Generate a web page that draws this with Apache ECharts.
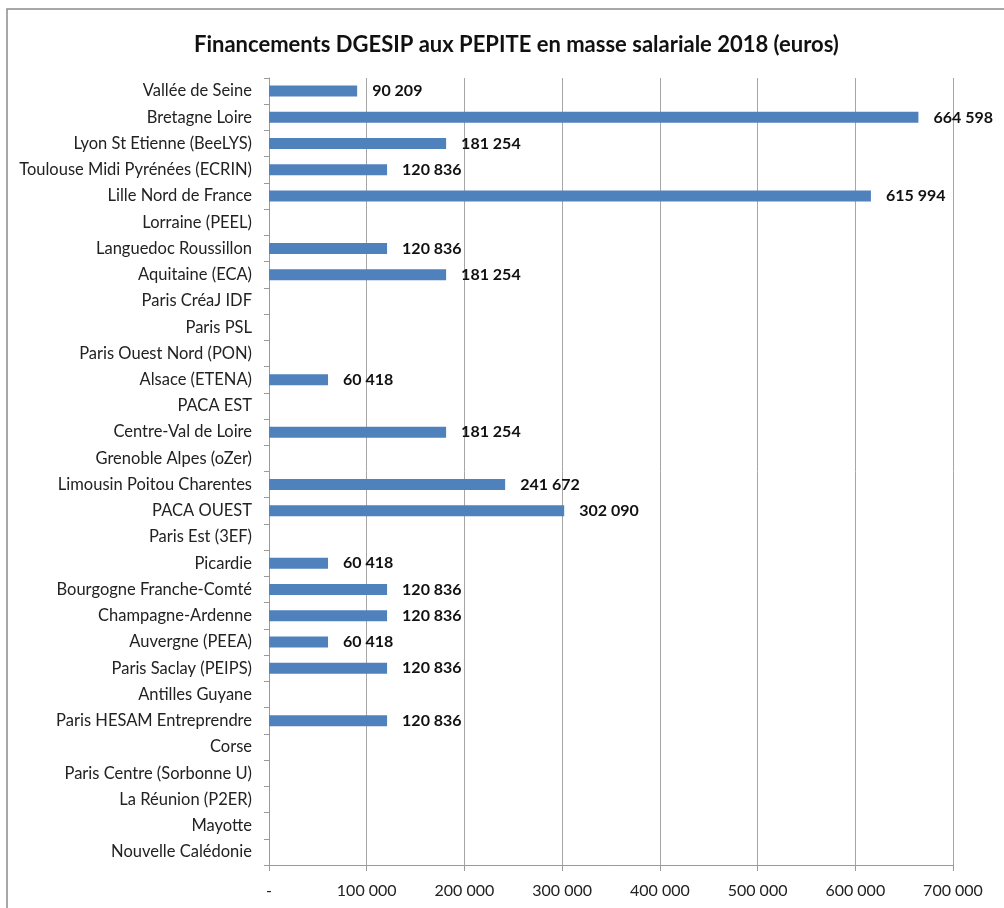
<!DOCTYPE html>
<html>
<head>
<meta charset="utf-8">
<script src="https://cdn.jsdelivr.net/npm/echarts@6/dist/echarts.min.js"></script>
<style>
  html, body { margin: 0; padding: 0; background: #fff; }
  #chart { width: 1004px; height: 908px; }
</style>
</head>
<body>
<div id="chart"></div>
<script>
const categories = [
  'Vallée de Seine', 'Bretagne Loire', 'Lyon St Etienne (BeeLYS)', 'Toulouse Midi Pyrénées (ECRIN)',
  'Lille Nord de France', 'Lorraine (PEEL)', 'Languedoc Roussillon', 'Aquitaine (ECA)',
  'Paris CréaJ IDF', 'Paris PSL', 'Paris Ouest Nord (PON)', 'Alsace (ETENA)', 'PACA EST',
  'Centre-Val de Loire', 'Grenoble Alpes (oZer)', 'Limousin Poitou Charentes', 'PACA OUEST',
  'Paris Est (3EF)', 'Picardie', 'Bourgogne Franche-Comté', 'Champagne-Ardenne',
  'Auvergne (PEEA)', 'Paris Saclay (PEIPS)', 'Antilles Guyane', 'Paris HESAM Entreprendre',
  'Corse', 'Paris Centre (Sorbonne U)', 'La Réunion (P2ER)', 'Mayotte', 'Nouvelle Calédonie'
];
const montants = [
  90209, 664598, 181254, 120836,
  615994, null, 120836, 181254,
  null, null, null, 60418, null,
  181254, null, 241672, 302090,
  null, 60418, 120836, 120836,
  60418, 120836, null, 120836,
  null, null, null, null, null
];
const xTicks = ['-', '100 000', '200 000', '300 000', '400 000', '500 000', '600 000', '700 000'];

const fmt = v => String(v).replace(/\B(?=(\d{3})+(?!\d))/g, ' ');
const font = 'Lato, "Liberation Sans", Arial, sans-serif';

const chart = echarts.init(document.getElementById('chart'));
chart.setOption({
  animation: false,
  title: {
    text: 'Financements DGESIP aux PEPITE en masse salariale 2018 (euros)',
    left: 189,
    top: 29,
    textStyle: { fontFamily: font, fontSize: 22, fontWeight: 'bold', color: '#111' }
  },
  // cadre du graphique (bord gauche et haut seulement visibles)
  graphic: [{
    type: 'polyline',
    shape: { points: [[7, 908], [7, 9], [1004, 9]] },
    style: { fill: 'none', stroke: '#8c8c8c', lineWidth: 1.5 },
    silent: true
  }],
  grid: { left: 269, right: 51, top: 78, bottom: 43 },
  xAxis: {
    type: 'value',
    min: 0,
    max: 700000,
    interval: 100000,
    axisLine: { show: true, lineStyle: { color: '#9a9a9a' } },
    axisTick: { show: true, length: 6, lineStyle: { color: '#9a9a9a' } },
    splitLine: { show: true, lineStyle: { color: '#a6a6a6', width: 1 } },
    axisLabel: {
      margin: 18,
      fontFamily: font,
      fontSize: 16,
      color: '#222',
      formatter: v => xTicks[Math.round(v / 100000)]
    }
  },
  yAxis: {
    type: 'category',
    inverse: true,
    data: categories,
    axisLine: { show: true, lineStyle: { color: '#9a9a9a' } },
    axisTick: { show: true, length: 5, lineStyle: { color: '#9a9a9a' } },
    axisLabel: {
      margin: 17,
      fontFamily: font,
      fontSize: 16.5,
      color: '#222'
    }
  },
  series: [{
    type: 'bar',
    data: montants,
    barWidth: 11,
    itemStyle: { color: '#4f81bd' },
    label: {
      show: true,
      position: 'right',
      distance: 15,
      fontFamily: font,
      fontSize: 16,
      fontWeight: 'bold',
      color: '#111',
      formatter: p => p.value == null ? '' : fmt(p.value)
    }
  }]
});
</script>
</body>
</html>
